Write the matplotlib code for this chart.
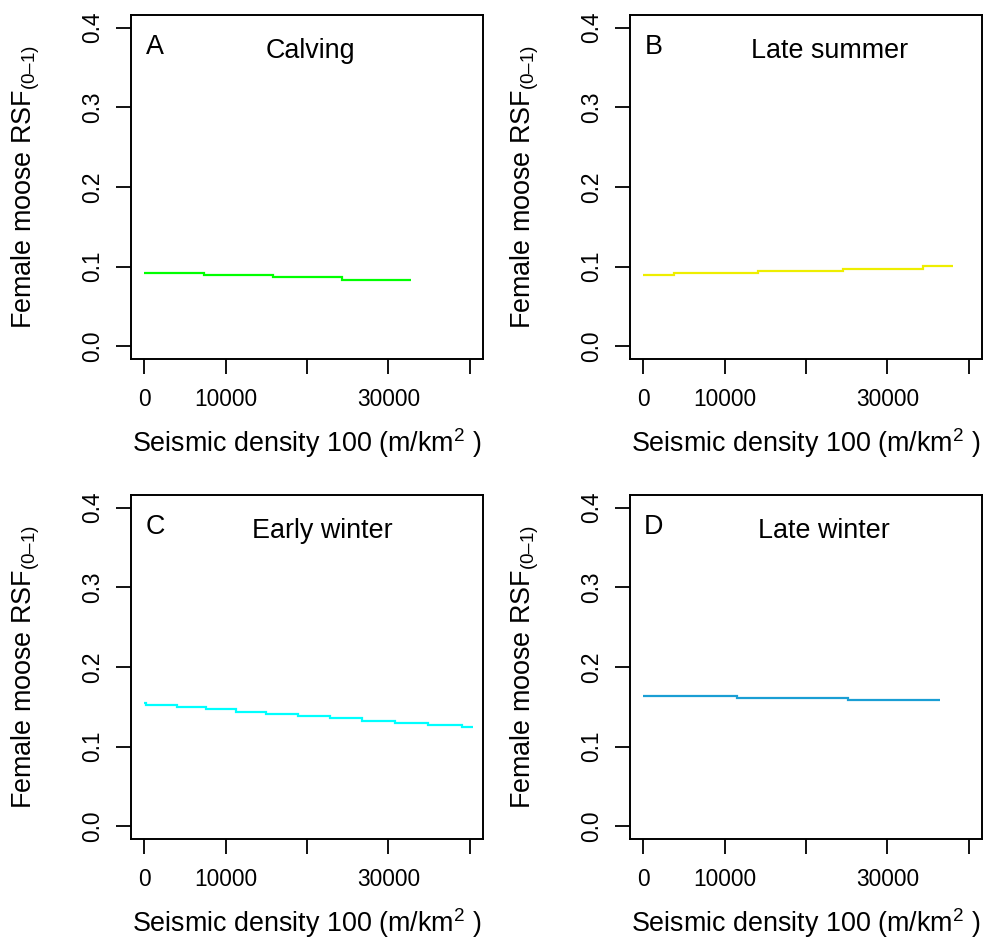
import matplotlib
matplotlib.use("Agg")
import matplotlib.pyplot as plt

plt.rcParams["font.family"] = ["Liberation Sans", "DejaVu Sans"]
plt.rcParams["mathtext.fontset"] = "custom"
plt.rcParams["mathtext.rm"] = "Liberation Sans"
plt.rcParams["mathtext.it"] = "Liberation Sans:italic"

# step curves (seismic density bins -> predicted RSF)
calving_x = [0, 7400, 15840, 24280, 32720]
calving_y = [0.0919, 0.0894, 0.0865, 0.0836]

summer_x = [0, 3750, 14130, 24510, 34400, 38100]
summer_y = [0.0890, 0.0919, 0.0945, 0.0975, 0.1013]

early_x = [0, 280, 3990, 7620, 11320, 14940, 18930, 22840, 26750, 30740,
           34850, 38970, 40330]
early_y = [0.1553, 0.1524, 0.1495, 0.1470, 0.1440, 0.1410, 0.1382, 0.1356,
           0.1326, 0.1297, 0.1272, 0.1243]

late_x = [0, 11580, 25130, 36460]
late_y = [0.1641, 0.1616, 0.1583]

letters = ["A", "B", "C", "D"]
seasons = ["Calving", "Late summer", "Early winter", "Late winter"]
colors = ["#00FF00", "#EEEE00", "#00FFFF", "#1A9ED4"]

xticks = [0, 10000, 20000, 30000, 40000]
xticklabels = ["0", "10000", "", "30000", ""]
yticks = [0.0, 0.1, 0.2, 0.3, 0.4]
yticklabels = ["0.0", "0.1", "0.2", "0.3", "0.4"]

series = [(calving_x, calving_y), (summer_x, summer_y),
          (early_x, early_y), (late_x, late_y)]

W, H = 990, 941
fig = plt.figure(figsize=(W / 100, H / 100), dpi=100)

# axes boxes in pixels: left, top, right, bottom
boxes = [(131, 15, 483, 359), (630, 15, 982, 359),
         (131, 495, 483, 839), (630, 495, 982, 839)]
title_x = [0.51, 0.568, 0.544, 0.551]
fs_tick = 16.4
fs = 19.4

for i, (l, t, r, b) in enumerate(boxes):
    ax = fig.add_axes([l / W, 1 - b / H, (r - l) / W, (b - t) / H])
    xs, ys = series[i]
    ax.stairs(ys, xs, baseline=None, color=colors[i], lw=1.6)
    ax.set_xlim(-1600, 41600)
    ax.set_ylim(-0.016, 0.416)
    ax.set_xticks(xticks)
    ax.set_xticklabels(xticklabels)
    ax.set_yticks(yticks)
    ax.set_yticklabels(yticklabels, rotation=90, va="center")
    ax.tick_params(length=10.5, width=1.3, labelsize=fs_tick)
    ax.tick_params(axis="x", pad=10.5)
    ax.tick_params(axis="y", pad=9)
    for s in ax.spines.values():
        s.set_linewidth(1.4)
    ax.set_xlabel(r"Seismic density 100 (m/km$^{2}$ )", fontsize=fs, va="center")
    ax.xaxis.set_label_coords(0.5, -0.245)
    ax.set_ylabel("Female moose RSF$_{\\mathrm{(0\u20131)}}$", fontsize=fs, va="center")
    ax.yaxis.set_label_coords(-0.30, 0.5)
    ax.text(0.068, 0.907, letters[i], transform=ax.transAxes, ha="center",
            va="center", fontsize=fs)
    ax.text(title_x[i], 0.895, seasons[i], transform=ax.transAxes, ha="center",
            va="center", fontsize=fs)

fig.savefig("out.png", dpi=100)
